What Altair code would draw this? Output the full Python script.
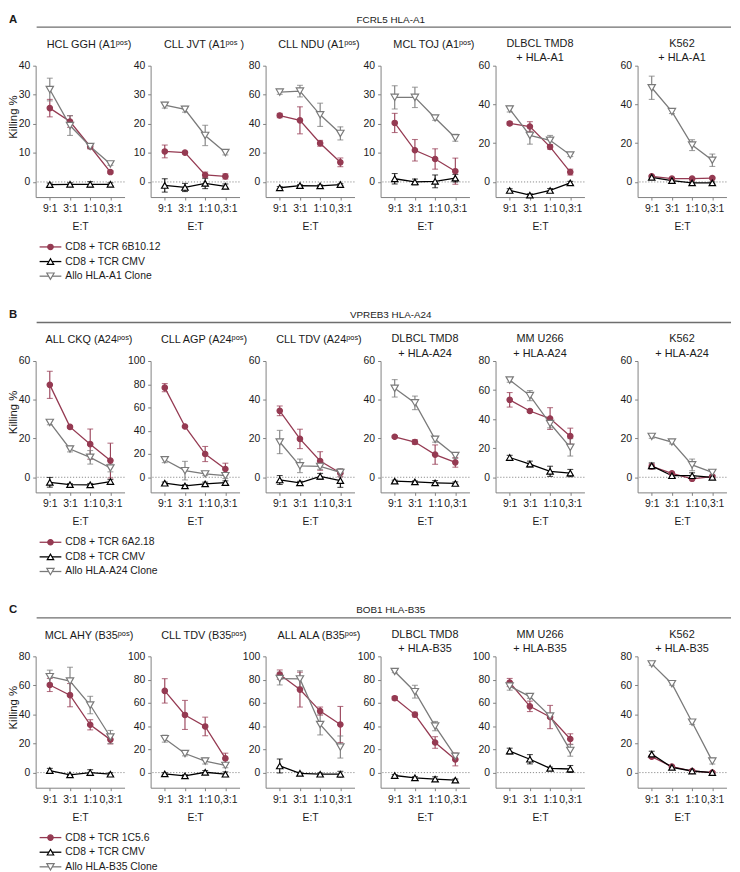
import altair as alt
import pandas as pd

RATIOS = ["9:1", "3:1", "1:1", "0,3:1"]
KINDS = ["TCR", "CMV", "Allo"]
SUP = "\u1d56\u1d52\u02e2"

# ---------------- Section A ----------------
A_LETTER = "A"
A_HEADER = "FCRL5 HLA-A1"
A_LEGEND = ["CD8 + TCR 6B10.12", "CD8 + TCR CMV", "Allo HLA-A1 Clone"]
A_TITLES = [f"HCL GGH (A1{SUP})", f"CLL JVT  (A1{SUP} )", f"CLL NDU (A1{SUP})",
            f"MCL TOJ  (A1{SUP})", ["DLBCL TMD8", "+ HLA-A1"], ["K562", "+ HLA-A1"]]
A_YMAX = [40, 40, 80, 40, 60, 60]
A_TCR = [[25.4, 20.8, 12.2, 3.4], [10.5, 10.1, 2.4, 1.9], [45.7, 42.4, 26.6, 13.5],
         [20.3, 10.9, 7.9, 3.7], [30.2, 28.6, 18.1, 5.1], [2.9, 1.7, 1.7, 2.0]]
A_TCR_ERR = [[3.0, 2.0, 0.8, 0.5], [2.2, 0.4, 1.0, 0.9], [1.5, 9.3, 2.0, 3.0],
             [3.3, 3.7, 3.5, 4.5], [0.8, 2.5, 1.2, 1.5], [0.5, 0.4, 0.4, 0.4]]
A_CMV = [[-0.9, -0.8, -0.8, -0.8], [-1.2, -1.9, -0.5, -1.5], [-4.0, -2.5, -2.7, -1.8],
         [1.1, 0.0, 0.2, 1.3], [-4.4, -6.8, -4.4, -0.5], [2.4, 0.7, -0.5, -0.5]]
A_CMV_ERR = [[0.5, 0.5, 0.9, 0.5], [2.3, 1.4, 1.8, 0.8], [0.8, 0.6, 0.6, 0.6],
             [1.8, 1.0, 2.2, 1.3], [0.9, 0.7, 1.0, 0.8], [0.5, 0.5, 0.5, 0.5]]
A_ALLO = [[31.8, 19.4, 12.2, 6.2], [26.4, 25.0, 16.0, 10.1], [61.8, 62.5, 46.2, 33.4],
          [29.1, 29.1, 22.0, 15.2], [37.6, 24.0, 21.5, 13.9], [48.6, 36.3, 19.0, 11.2]]
A_ALLO_ERR = [[3.9, 3.4, 0.7, 0.5], [1.0, 1.0, 3.5, 0.8], [1.5, 4.0, 8.0, 4.5],
              [4.0, 3.5, 0.8, 1.2], [1.5, 4.5, 2.5, 0.8], [6.0, 1.0, 2.8, 3.2]]

# ---------------- Section B ----------------
B_LETTER = "B"
B_HEADER = "VPREB3 HLA-A24"
B_LEGEND = ["CD8 + TCR 6A2.18", "CD8 + TCR CMV", "Allo HLA-A24 Clone"]
B_TITLES = [f"ALL CKQ (A24{SUP})", f"CLL AGP (A24{SUP})", f"CLL TDV (A24{SUP})",
            ["DLBCL TMD8", "+ HLA-A24"], ["MM U266", "+ HLA-A24"], ["K562", "+ HLA-A24"]]
B_YMAX = [60, 100, 60, 60, 80, 60]
B_TCR = [[47.7, 26.0, 17.1, 8.6], [77.1, 43.7, 20.0, 7.1], [34.3, 19.8, 8.4, 2.2],
         [20.9, 18.2, 11.7, 7.7], [53.3, 45.6, 40.4, 28.3], [5.6, 2.0, -0.8, 0.3]]
B_TCR_ERR = [[7.0, 0.5, 7.8, 9.0], [3.5, 0.8, 6.5, 5.0], [2.5, 5.0, 4.8, 2.0],
             [0.5, 1.2, 5.0, 2.5], [5.0, 1.0, 7.5, 5.5], [1.2, 0.5, 0.5, 0.5]]
B_CMV = [[-2.6, -3.8, -3.9, -2.2], [-5.1, -7.4, -5.7, -4.6], [-1.4, -2.9, 0.5, -1.7],
         [-2.0, -2.4, -2.9, -3.2], [13.6, 9.1, 4.1, 2.9], [5.9, 0.8, 0.8, 0.0]]
B_CMV_ERR = [[2.5, 0.5, 0.7, 1.0], [1.0, 1.0, 1.5, 1.5], [2.3, 0.8, 1.5, 3.5],
             [0.5, 0.5, 1.2, 0.8], [1.5, 2.0, 3.5, 2.5], [1.5, 0.8, 1.5, 0.8]]
B_ALLO = [[28.3, 14.6, 10.3, 4.8], [15.1, 5.7, 2.9, 1.4], [18.2, 5.9, 5.6, 2.5],
          [45.9, 38.4, 19.6, 11.2], [66.9, 56.2, 37.0, 20.6], [21.1, 18.2, 6.4, 2.5]]
B_ALLO_ERR = [[1.2, 1.5, 3.5, 2.0], [2.5, 8.0, 1.5, 2.5], [6.0, 3.5, 1.5, 2.0],
              [4.5, 3.5, 1.5, 1.5], [1.5, 3.5, 3.0, 6.0], [1.0, 1.0, 3.0, 1.0]]

# ---------------- Section C ----------------
C_LETTER = "C"
C_HEADER = "BOB1 HLA-B35"
C_LEGEND = ["CD8 + TCR 1C5.6", "CD8 + TCR CMV", "Allo HLA-B35 Clone"]
C_TITLES = [f"MCL AHY (B35{SUP})", f"CLL TDV (B35{SUP})", f"ALL ALA (B35{SUP})",
            ["DLBCL TMD8", "+ HLA-B35"], ["MM U266", "+ HLA-B35"], ["K562", "+ HLA-B35"]]
C_YMAX = [80, 100, 100, 100, 100, 80]
C_TCR = [[60.3, 53.3, 32.9, 22.7], [70.3, 49.6, 39.7, 12.2], [84.3, 71.4, 52.9, 41.4],
         [64.0, 49.9, 25.9, 11.3], [77.5, 57.0, 47.8, 28.9], [10.9, 4.1, 1.1, 0.0]]
C_TCR_ERR = [[4.5, 8.0, 3.5, 3.0], [10.5, 12.5, 8.0, 4.5], [4.0, 15.0, 3.5, 15.5],
             [1.5, 2.0, 5.0, 5.5], [3.5, 4.5, 10.0, 4.5], [1.0, 0.5, 0.5, 0.5]]
C_CMV = [[1.4, -1.6, 0.0, -1.1], [-1.1, -2.8, 0.3, -1.4], [5.7, -0.6, -1.4, -1.4],
         [-2.5, -4.5, -5.6, -6.5], [18.5, 11.5, 3.7, 3.1], [12.7, 3.6, 1.1, 0.0]]
C_CMV_ERR = [[1.5, 0.5, 2.0, 1.0], [1.0, 1.0, 1.5, 2.0], [6.0, 0.8, 1.0, 2.5],
             [0.8, 1.0, 2.0, 1.0], [2.5, 4.0, 1.0, 3.0], [2.0, 1.0, 1.0, 0.5]]
C_ALLO = [[66.0, 63.0, 46.5, 24.5], [29.2, 16.4, 9.9, 6.2], [80.9, 80.6, 41.4, 22.0],
          [87.0, 69.6, 40.0, 14.1], [74.4, 65.4, 48.6, 19.1], [74.8, 61.2, 34.7, 7.9]]
C_ALLO_ERR = [[4.5, 9.5, 6.0, 4.5], [3.0, 2.0, 2.5, 2.0], [5.5, 7.0, 9.0, 9.5],
              [1.0, 5.5, 4.0, 2.5], [3.5, 1.5, 2.0, 5.0], [1.0, 1.0, 1.5, 2.0]]

# ---------------- styling ----------------
RED = "#953a52"
GREY = "#7a7a7a"
AX = "#808080"
TXT = "#1a1a1a"
FONT = "Liberation Sans"
W, H = 90, 133
COL_GAP = 26.4
K562_EXTRA = 0.5   # spacer column width -> extra gap before K562 panels

color_sc = alt.Scale(domain=KINDS, range=[RED, "#000000", GREY])
fill_sc = alt.Scale(domain=KINDS, range=[RED, "#ffffff", "#ffffff"])
shape_sc = alt.Scale(domain=KINDS, range=["circle", "triangle-up", "triangle-down"])
size_sc = alt.Scale(domain=KINDS, range=[30, 55, 55])


def long_df(means, errs):
    rows = []
    for k, m, e in zip(KINDS, means, errs):
        for j, (r, v, s) in enumerate(zip(RATIOS, m, e)):
            rows.append(dict(kind=k, ratio=r, order=j, mean=v, lo=v - s, hi=v + s))
    return pd.DataFrame(rows)


def empty(w, h):
    return alt.Chart(pd.DataFrame({"v": [0]})).mark_point(opacity=0).encode(
        x=alt.value(0), y=alt.value(0)).properties(width=w, height=h)


def panel(title, ymax, means, errs, first):
    df = long_df(means, errs)
    step = 10 if ymax == 40 else 20
    ticks = list(range(0, ymax + 1, step))
    yscale = alt.Scale(domain=[-0.13 * ymax, ymax], nice=False, zero=False)
    yaxis_kw = dict(values=ticks, tickSize=3, tickColor=AX, domainColor=AX, grid=False,
                    labelFontSize=10.5, labelPadding=3, labelColor=TXT, format="d")
    if first:
        yaxis_kw.update(titleFontSize=11.5, titleFontWeight="normal", titleColor=TXT,
                        titleX=-17, titleY=H / 2 - 15, titleAngle=270, titleBaseline="bottom",
                        titleAlign="center")
    yaxis = alt.Axis(**yaxis_kw)
    ytitle = "Killing %" if first else None

    def Y(f):
        return alt.Y(f"{f}:Q", scale=yscale, axis=yaxis, title=ytitle)

    x = alt.X("ratio:N", sort=RATIOS, scale=alt.Scale(type="point", padding=0.7),
              axis=alt.Axis(title="E:T", labelAngle=0, tickSize=3, tickColor=AX,
                            domainColor=AX, labelFontSize=10.5, labelPadding=3.5,
                            labelColor=TXT, titleFontSize=10.5, titleFontWeight="normal",
                            titleColor=TXT, titlePadding=8, grid=False))
    col = alt.Color("kind:N", scale=color_sc, legend=None)
    base = alt.Chart(df)

    zero = alt.Chart(pd.DataFrame({"z": [0]})).mark_rule(
        color=AX, strokeWidth=0.9, strokeDash=[1.2, 1.8]).encode(y=Y("z"))
    bars = base.mark_rule(strokeWidth=1.1).encode(x=x, y=Y("lo"), y2="hi:Q", color=col)
    cap_lo = base.mark_tick(thickness=1.1, size=6).encode(x=x, y=Y("lo"), color=col)
    cap_hi = base.mark_tick(thickness=1.1, size=6).encode(x=x, y=Y("hi"), color=col)
    lines = base.mark_line(strokeWidth=1.3).encode(
        x=x, y=Y("mean"), color=col, detail="kind:N", order="order:Q")
    pts = base.mark_point(filled=True, strokeWidth=1.2, opacity=1).encode(
        x=x, y=Y("mean"),
        shape=alt.Shape("kind:N", scale=shape_sc, legend=None),
        fill=alt.Fill("kind:N", scale=fill_sc, legend=None),
        stroke=alt.Stroke("kind:N", scale=color_sc, legend=None),
        size=alt.Size("kind:N", scale=size_sc, legend=None))

    two_line = isinstance(title, list)
    tparams = alt.TitleParams(
        text=title, fontSize=11, fontWeight="normal", color=TXT, anchor="middle",
        frame="group", baseline="bottom", lineHeight=14.5,
        offset=0.5 if two_line else 14, dy=14, dx=0 if two_line else 9)
    return alt.layer(zero, bars, cap_lo, cap_hi, lines, pts).properties(
        width=W, height=H, title=tparams)


def header(letter, text):
    df = pd.DataFrame({"letter": [letter], "text": [text]})
    base = alt.Chart(df)
    rule = base.mark_rule(color="#6e6e6e", strokeWidth=1.3).encode(
        x=alt.value(1), x2=alt.value(704), y=alt.value(0))
    let = base.mark_text(align="left", baseline="middle", fontSize=11.5,
                         fontWeight="bold", color=TXT).encode(
        x=alt.value(-27), y=alt.value(-7.5), text="letter:N")
    txt = base.mark_text(align="center", baseline="middle", fontSize=10,
                         color=TXT).encode(
        x=alt.value(359.5), y=alt.value(-7.5), text="text:N")
    return alt.layer(rule, let, txt).properties(width=W, height=39)


def legend(labels, height):
    df = pd.DataFrame({"kind": KINDS, "label": labels})
    yk = alt.Y("kind:N", sort=KINDS, axis=None,
               scale=alt.Scale(type="point", domain=KINDS, range=[50.5, 80.1], padding=0))
    base = alt.Chart(df)
    ln = base.mark_rule(strokeWidth=1.3).encode(
        x=alt.value(4), x2=alt.value(26), y=yk,
        color=alt.Color("kind:N", scale=color_sc, legend=None))
    pt = base.mark_point(filled=True, strokeWidth=1.2, opacity=1).encode(
        x=alt.value(15), y=yk,
        shape=alt.Shape("kind:N", scale=shape_sc, legend=None),
        fill=alt.Fill("kind:N", scale=fill_sc, legend=None),
        stroke=alt.Stroke("kind:N", scale=color_sc, legend=None),
        size=alt.Size("kind:N", scale=size_sc, legend=None))
    tx = base.mark_text(align="left", baseline="middle", fontSize=10.5, color=TXT).encode(
        x=alt.value(30), y=yk, text="label:N")
    return alt.layer(ln, pt, tx).properties(width=W, height=height)


def section(letter, head, titles, ymaxs, tcr, tcr_e, cmv, cmv_e, allo, allo_e, leg, leg_h):
    cells = [header(letter, head)] + [empty(1, 1) for _ in range(4)] + \
        [empty(K562_EXTRA, 1), empty(1, 1)]
    ps = [panel(titles[i], ymaxs[i], [tcr[i], cmv[i], allo[i]],
                [tcr_e[i], cmv_e[i], allo_e[i]], i == 0) for i in range(6)]
    cells += ps[:5] + [empty(K562_EXTRA, 1), ps[5]]
    cells += [legend(leg, leg_h)] + [empty(1, 1) for _ in range(4)] + \
        [empty(K562_EXTRA, 1), empty(1, 1)]
    return cells


LEG_H = 126.5
cells = []
cells += section(A_LETTER, A_HEADER, A_TITLES, A_YMAX, A_TCR, A_TCR_ERR, A_CMV, A_CMV_ERR,
                 A_ALLO, A_ALLO_ERR, A_LEGEND, LEG_H)
cells += section(B_LETTER, B_HEADER, B_TITLES, B_YMAX, B_TCR, B_TCR_ERR, B_CMV, B_CMV_ERR,
                 B_ALLO, B_ALLO_ERR, B_LEGEND, LEG_H)
cells += section(C_LETTER, C_HEADER, C_TITLES, C_YMAX, C_TCR, C_TCR_ERR, C_CMV, C_CMV_ERR,
                 C_ALLO, C_ALLO_ERR, C_LEGEND, 84)

chart = alt.concat(*cells, columns=7, spacing={"row": 0, "column": COL_GAP},
                   bounds="flush", align="each").resolve_scale(
    x="independent", y="independent"
).properties(padding=0).configure(font=FONT).configure_view(stroke=None)

chart.save("out.html", embed_options={"renderer": "svg", "actions": False})
